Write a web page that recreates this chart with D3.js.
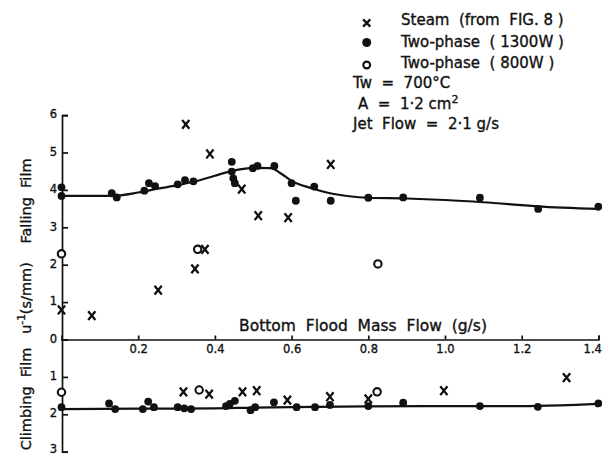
<!DOCTYPE html>
<html>
<head>
<meta charset="utf-8">
<script src="https://cdn.jsdelivr.net/npm/d3@7"></script>
<style>
  html, body { margin: 0; padding: 0; background: #fff; }
  svg { display: block; }
  text { font-family: "DejaVu Sans", sans-serif; fill: #111; stroke: #111; stroke-width: 0.35px; }
</style>
</head>
<body>
<script>
// Bottom flood mass flow (g/s) for the tick marks
const xTicks = [0.2, 0.4, 0.6, 0.8, 1.0, 1.2, 1.4];
const fallingTicks = [0, 1, 2, 3, 4, 5, 6];
const climbingTicks = [1, 2, 3];

// Falling film: inverse quench velocity u^-1 (s/mm)
const fallingTwoPhase1300 = [
  [0.0, 4.07], [0.0, 3.84], [0.131, 3.91], [0.144, 3.80], [0.216, 3.98],
  [0.228, 4.18], [0.244, 4.10], [0.303, 4.15], [0.322, 4.26], [0.344, 4.23],
  [0.444, 4.75], [0.444, 4.49], [0.448, 4.31], [0.452, 4.18], [0.499, 4.58],
  [0.511, 4.64], [0.555, 4.64], [0.600, 4.18], [0.611, 3.71], [0.659, 4.09],
  [0.702, 3.71], [0.800, 3.79], [0.891, 3.80], [1.091, 3.79], [1.243, 3.49],
  [1.400, 3.55]
];
const fallingSteam = [
  [0.0, 0.79], [0.079, 0.64], [0.252, 1.32], [0.324, 5.75], [0.348, 1.89],
  [0.374, 2.41], [0.387, 4.96], [0.470, 4.02], [0.513, 3.31], [0.591, 3.26],
  [0.702, 4.68]
];
const fallingTwoPhase800 = [[0.0, 2.29], [0.355, 2.41], [0.825, 2.02]];
const fallingFit = [
  [0.0, 3.84], [0.13, 3.84], [0.2, 3.93], [0.25, 4.03], [0.3, 4.12],
  [0.35, 4.23], [0.4, 4.38], [0.45, 4.52], [0.5, 4.59], [0.545, 4.58],
  [0.575, 4.42], [0.6, 4.24], [0.65, 4.05], [0.7, 3.91], [0.75, 3.83],
  [0.8, 3.79], [0.9, 3.77], [1.0, 3.73], [1.1, 3.67], [1.24, 3.56], [1.4, 3.49]
];

// Climbing film: inverse quench velocity u^-1 (s/mm), plotted downward
const climbingTwoPhase1300 = [
  [0.0, 1.81], [0.124, 1.71], [0.140, 1.86], [0.212, 1.86], [0.226, 1.66],
  [0.241, 1.81], [0.303, 1.81], [0.320, 1.84], [0.338, 1.86], [0.429, 1.78],
  [0.439, 1.72], [0.452, 1.64], [0.493, 1.89], [0.505, 1.81], [0.554, 1.68],
  [0.613, 1.81], [0.661, 1.81], [0.700, 1.75], [0.800, 1.78], [0.891, 1.69],
  [1.091, 1.78], [1.242, 1.80], [1.400, 1.71]
];
const climbingSteam = [
  [0.318, 1.40], [0.385, 1.46], [0.472, 1.40], [0.509, 1.37], [0.589, 1.62],
  [0.700, 1.53], [0.800, 1.59], [0.997, 1.37], [1.317, 1.02]
];
const climbingTwoPhase800 = [[0.0, 1.41], [0.359, 1.35], [0.823, 1.40]];
const climbingFit = [
  [0.0, 1.86], [0.2, 1.85], [0.4, 1.84], [0.5, 1.82], [0.6, 1.81],
  [0.8, 1.79], [1.0, 1.78], [1.2, 1.78], [1.3, 1.76], [1.4, 1.72]
];

// Legend and test conditions
const legendItems = [
  { kind: "steam", label: "Steam  (from  FIG. 8 )" },
  { kind: "dot", label: "Two-phase  ( 1300W )" },
  { kind: "open", label: "Two-phase  ( 800W )" }
];
const conditionLines = ["Tw  =  700°C", "A  =  1·2 cm", "Jet  Flow  =  2·1 g/s"];

const W = 602, H = 455;
const svg = d3.select("body").append("svg")
  .attr("width", W).attr("height", H);

const x = d3.scaleLinear().domain([0, 1.4]).range([61.5, 598.4]);
const yTop = d3.scaleLinear().domain([0, 6]).range([339.5, 115.1]);
const yBot = d3.scaleLinear().domain([0, 3]).range([339.5, 451.7]);

const ink = "#111";

function styleAxis(g, size) {
  g.selectAll("path, line").attr("stroke", ink).attr("stroke-width", 1.7);
  g.selectAll("text").style("font-family", '"DejaVu Sans", sans-serif')
    .style("font-size", size + "px").attr("fill", ink);
  g.attr("font-family", null).attr("font-size", null);
}

// Vertical axes: ticks point into the plot, labels on the left
const gTop = svg.append("g").attr("transform", "translate(62,0)")
  .call(d3.axisLeft(yTop).tickValues(fallingTicks).tickFormat(d3.format("d"))
    .tickSize(-6).tickSizeOuter(-6).tickPadding(5));
styleAxis(gTop, 11.5);
gTop.selectAll(".tick text").attr("dy", "0.25em");

const gBot = svg.append("g").attr("transform", "translate(62,0)")
  .call(d3.axisLeft(yBot).tickValues(climbingTicks).tickFormat(d3.format("d"))
    .tickSize(-6).tickSizeOuter(-6).tickPadding(5));
styleAxis(gBot, 11.5);
gBot.selectAll(".tick text").attr("dy", d => d === 3 ? "0.05em" : "0.2em");

// Horizontal axis along zero, ticks upward, labels beneath
const gX = svg.append("g").attr("transform", "translate(0," + yTop(0) + ")")
  .call(d3.axisBottom(x).tickValues(xTicks).tickFormat(d3.format(".1f"))
    .tickSize(-4).tickSizeOuter(-4).tickPadding(5));
styleAxis(gX, 11.5);
gX.selectAll(".tick text").filter(d => d === 1.4)
  .attr("text-anchor", "end").attr("dx", 3);

// Fitted curves
const line = d3.line().x(d => x(d[0])).curve(d3.curveMonotoneX);
svg.append("path").datum(fallingFit)
  .attr("d", line.y(d => yTop(d[1])))
  .attr("fill", "none").attr("stroke", ink).attr("stroke-width", 2.2);
svg.append("path").datum(climbingFit)
  .attr("d", line.y(d => yBot(d[1])))
  .attr("fill", "none").attr("stroke", ink).attr("stroke-width", 2.2);

// Marker helpers
const crossPath = "M-3.6,-4.4L3.6,4.4M3.6,-4.4L-3.6,4.4";
function drawDots(data, yScale) {
  svg.append("g").selectAll("circle").data(data).join("circle")
    .attr("cx", d => x(d[0])).attr("cy", d => yScale(d[1]))
    .attr("r", 3.9).attr("fill", ink);
}
function drawOpen(data, yScale) {
  svg.append("g").selectAll("circle").data(data).join("circle")
    .attr("cx", d => x(d[0])).attr("cy", d => yScale(d[1]))
    .attr("r", 3.7).attr("fill", "#fff").attr("stroke", ink).attr("stroke-width", 2.1);
}
function drawSteam(data, yScale) {
  svg.append("g").selectAll("path").data(data).join("path")
    .attr("transform", d => "translate(" + x(d[0]) + "," + yScale(d[1]) + ")")
    .attr("d", crossPath).attr("fill", "none")
    .attr("stroke", ink).attr("stroke-width", 2.3);
}

drawDots(fallingTwoPhase1300, yTop);
drawOpen(fallingTwoPhase800, yTop);
drawSteam(fallingSteam, yTop);
drawDots(climbingTwoPhase1300, yBot);
drawOpen(climbingTwoPhase800, yBot);
drawSteam(climbingSteam, yBot);

// Axis titles
svg.append("text").attr("x", 363).attr("y", 331)
  .attr("text-anchor", "middle").style("font-size", "15.5px")
  .style("white-space", "pre")
  .text("Bottom  Flood  Mass  Flow  (g/s)");

function sideLabel(cy, build) {
  const t = svg.append("text")
    .attr("transform", "translate(31," + cy + ") rotate(-90)")
    .attr("text-anchor", "middle").style("font-size", "14.5px")
    .style("white-space", "pre");
  build(t);
}
sideLabel(201, t => t.text("Falling  Film"));
sideLabel(298, t => {
  t.append("tspan").text("u");
  t.append("tspan").attr("dy", -6).style("font-size", "10.5px").text("-1");
  t.append("tspan").attr("dy", 6).text("(s/mm)");
});
sideLabel(399, t => t.text("Climbing  Film"));

// Legend
const legend = svg.append("g");
legendItems.forEach((item, i) => {
  const baseY = 25 + i * 21.5;
  const cy = baseY - 3;
  if (item.kind === "steam") {
    legend.append("path").attr("transform", "translate(366.7," + (cy + 1) + ")")
      .attr("d", "M-3.6,-3.6L3.6,3.6M3.6,-3.6L-3.6,3.6")
      .attr("stroke", ink).attr("stroke-width", 2.3).attr("fill", "none");
  } else if (item.kind === "dot") {
    legend.append("circle").attr("cx", 366.7).attr("cy", cy - 1)
      .attr("r", 4.5).attr("fill", ink);
  } else {
    legend.append("circle").attr("cx", 366.7).attr("cy", cy)
      .attr("r", 3.4).attr("fill", "#fff").attr("stroke", ink).attr("stroke-width", 2.1);
  }
  legend.append("text").attr("x", 401).attr("y", baseY)
    .style("font-size", "15px").style("white-space", "pre").text(item.label);
});

const condX = [353, 358, 353];
const condY = [87.5, 108.5, 129];
conditionLines.forEach((s, i) => {
  const t = legend.append("text").attr("x", condX[i]).attr("y", condY[i])
    .style("font-size", "15px").style("white-space", "pre").text(s);
  if (i === 1) {
    t.append("tspan").attr("dy", -6).style("font-size", "11px").text("2");
  }
});
</script>
</body>
</html>
